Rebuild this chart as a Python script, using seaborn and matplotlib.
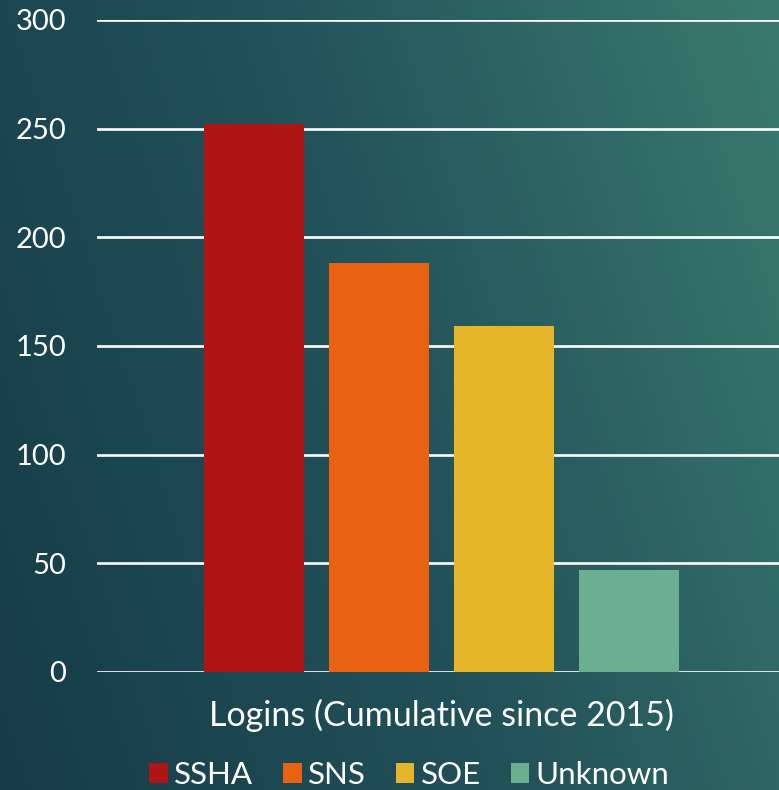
import numpy as np
import pandas as pd
import matplotlib
matplotlib.use("Agg")
import matplotlib.pyplot as plt
from matplotlib.colors import LinearSegmentedColormap
import seaborn as sns

# data
series = ["SSHA", "SNS", "SOE", "Unknown"]
logins = [252, 188, 159, 47]
category = "Logins (Cumulative since 2015)"
palette = ["#B01515", "#E86212", "#E6B62A", "#6BAE90"]

df = pd.DataFrame({"cat": [category] * len(series), "series": series, "logins": logins})

sns.set_style("white")
plt.rcParams["font.family"] = ["Lato", "DejaVu Sans"]

fig = plt.figure(figsize=(7.79, 7.90), dpi=100)

# gradient background
bg = fig.add_axes([0, 0, 1, 1], zorder=-10)
xx, yy = np.meshgrid(np.linspace(0, 1, 300), np.linspace(0, 1, 300))
t = np.clip(0.75 * xx + 0.25 * yy, 0, 1)
cmap = LinearSegmentedColormap.from_list("bg", ["#163c48", "#22525a", "#3a7a6e"])
bg.imshow(t, cmap=cmap, origin="lower", aspect="auto", extent=[0, 1, 0, 1])
bg.axis("off")

ax = fig.add_axes([97 / 779, 118 / 790, 1 - 97 / 779, 652 / 790])
ax.patch.set_alpha(0)
sns.barplot(data=df, x="cat", y="logins", hue="series", palette=palette,
            width=0.733, gap=0.2, saturation=1, linewidth=0, ax=ax, zorder=3)

ax.set_ylim(0, 300)
ax.set_xlim(-0.505, 0.495)
ax.set_yticks(range(0, 301, 50))
ax.yaxis.grid(True, color="white", linewidth=1.9, zorder=1)
ax.set_axisbelow(True)
for s in ax.spines.values():
    s.set_visible(False)
ax.tick_params(axis="y", colors="white", labelsize=21, length=0, pad=22)
ax.tick_params(axis="x", colors="white", labelsize=24.5, length=0, pad=19)
ax.set_xlabel("")
ax.set_ylabel("")

sns.move_legend(ax, "upper center", bbox_to_anchor=(0.458, -0.094), ncol=4,
                frameon=False, title=None, fontsize=22.5, handlelength=0.6,
                handleheight=0.6, handletextpad=0.2, columnspacing=0.95, labelcolor="white")

fig.savefig("out.png", dpi=100)
